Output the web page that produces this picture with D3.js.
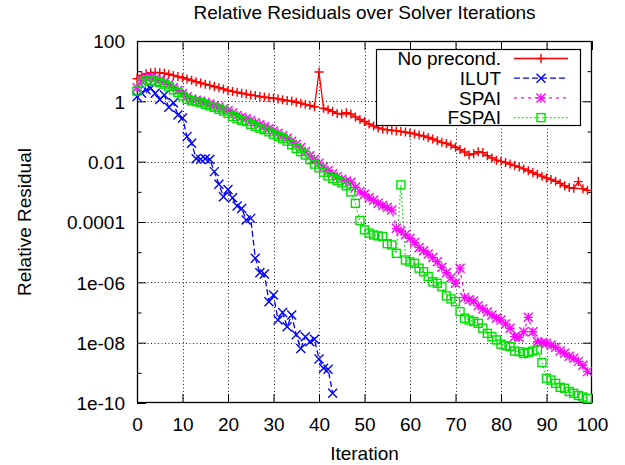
<!DOCTYPE html>
<html><head><meta charset="utf-8">
<script src="https://cdn.jsdelivr.net/npm/d3@7"></script>
<style>body{margin:0;background:#fff}svg{display:block}text{font-family:"Liberation Sans",Arial,sans-serif;fill:#000}</style>
</head><body><svg id="c" width="625" height="465"></svg>
<script>
// Data: log10 of relative residual, iteration index = position
const iterations = d3.range(0, 100);
const noPrecondLog10 = [0.75,0.86,0.92,0.95,0.96,0.95,0.93,0.90,0.86,0.82,
0.78,0.74,0.70,0.65,0.61,0.57,0.53,0.49,0.45,0.41,
0.36,0.33,0.30,0.27,0.24,0.21,0.19,0.16,0.14,0.12,
0.10,0.08,0.05,0.03,0.01,-0.03,-0.06,-0.10,-0.14,-0.18,
0.97,-0.23,-0.28,-0.34,-0.40,-0.42,-0.38,-0.42,-0.52,-0.60,
-0.67,-0.75,-0.82,-0.88,-0.92,-0.94,-0.96,-0.98,-1.00,-1.02,
-1.05,-1.08,-1.12,-1.15,-1.20,-1.25,-1.31,-1.36,-1.40,-1.45,
-1.52,-1.60,-1.68,-1.78,-1.74,-1.67,-1.70,-1.80,-1.88,-1.95,
-1.99,-2.03,-2.08,-2.13,-2.18,-2.24,-2.30,-2.36,-2.42,-2.48,
-2.54,-2.59,-2.65,-2.72,-2.80,-2.86,-2.88,-2.66,-2.90,-2.95];
const ilutLog10 = [0.15,0.28,0.38,0.43,0.27,0.06,0.21,-0.20,-0.05,-0.45,
-0.55,-1.17,-1.39,-1.90,-1.92,-1.90,-1.93,-2.33,-2.75,-3.16,
-2.92,-3.20,-3.47,-3.55,-3.93,-3.88,-5.20,-5.68,-5.72,-6.64,
-6.42,-7.25,-7.00,-7.47,-7.08,-7.74,-8.19,-7.80,-7.97,-7.89,
-8.54,-8.85,-8.88,-9.68];
const spaiLog10 = [0.45,0.68,0.80,0.80,0.75,0.70,0.64,0.56,0.46,0.36,
0.26,0.15,0.08,0.04,0.00,-0.04,-0.09,-0.14,-0.19,-0.25,
-0.31,-0.39,-0.47,-0.53,-0.58,-0.64,-0.71,-0.78,-0.84,-0.91,
-0.98,-1.06,-1.14,-1.22,-1.32,-1.42,-1.53,-1.66,-1.80,-1.92,
-2.05,-2.18,-2.30,-2.40,-2.50,-2.58,-2.64,-2.68,-2.85,-3.00,
-3.08,-3.20,-3.28,-3.38,-3.45,-3.52,-3.60,-4.21,-4.30,-4.42,
-4.54,-4.68,-4.85,-4.95,-5.06,-5.18,-5.32,-5.50,-5.68,-5.85,
-6.03,-5.53,-6.50,-6.58,-6.62,-6.78,-6.88,-6.98,-7.08,-7.18,
-7.25,-7.38,-7.52,-7.80,-7.82,-7.64,-7.16,-7.64,-7.97,-8.00,
-8.02,-8.08,-8.15,-8.28,-8.35,-8.45,-8.52,-8.62,-8.75,-8.96];
const fspaiLog10 = [0.34,0.60,0.71,0.70,0.66,0.62,0.57,0.48,0.38,0.29,
0.18,0.07,0.02,-0.01,-0.05,-0.10,-0.15,-0.20,-0.26,-0.32,
-0.40,-0.50,-0.58,-0.63,-0.67,-0.76,-0.83,-0.89,-0.94,-1.01,
-1.09,-1.16,-1.23,-1.32,-1.44,-1.56,-1.67,-1.78,-1.93,-2.08,
-2.20,-2.35,-2.47,-2.56,-2.63,-2.70,-2.80,-3.00,-3.38,-3.95,
-4.26,-4.37,-4.43,-4.46,-4.48,-4.72,-4.76,-5.04,-2.77,-5.26,
-5.32,-5.37,-5.53,-5.65,-5.81,-5.98,-6.03,-6.14,-6.45,-6.55,
-6.64,-6.97,-7.19,-7.25,-7.30,-7.36,-7.52,-7.69,-7.80,-7.91,
-8.05,-8.10,-8.13,-8.28,-8.30,-8.36,-8.32,-8.28,-8.24,-8.66,
-9.18,-9.24,-9.35,-9.48,-9.51,-9.62,-9.68,-9.75,-9.80,-9.85];

const seriesNames = ["No precond.", "ILUT", "SPAI", "FSPAI"];
const xTicks = [0,10,20,30,40,50,60,70,80,90,100];
const yMajorTicks = [100, 1, 0.01, 0.0001, 1e-6, 1e-8, 1e-10];
const yTickLabels = ["100", "1", "0.01", "0.0001", "1e-06", "1e-08", "1e-10"];
const yMinorTicks = [10, 0.1, 0.001, 1e-5, 1e-7, 1e-9];
const titleText = "Relative Residuals over Solver Iterations";
const xTitle = "Iteration";
const yTitle = "Relative Residual";

const FS = 19;
const L = 137, R = 592, T = 41, B = 403;
const svg = d3.select("#c");
const x = d3.scaleLinear().domain([0, 100]).range([L, R]);
const y = d3.scaleLog().domain([1e-10, 100]).range([B, T]);

const styles = [
  {color: "#ff0000", dash: null, marker: "plus"},
  {color: "#0000ff", dash: "6,3", marker: "cross"},
  {color: "#ff00ff", dash: "3,4", marker: "star"},
  {color: "#00e000", dash: "1.5,2.5", marker: "square"}
];
const allData = [noPrecondLog10, ilutLog10, spaiLog10, fspaiLog10].map(arr =>
  arr.map((v, i) => ({it: iterations[i], val: Math.pow(10, v)})));

// grid
const grid = svg.append("g").attr("stroke", "#222").attr("stroke-width", 1).attr("stroke-dasharray", "1,2.5");
xTicks.filter(t => t > 0 && t < 100).forEach(t => {
  grid.append("line").attr("x1", Math.round(x(t)) + 0.5).attr("x2", Math.round(x(t)) + 0.5).attr("y1", T).attr("y2", B);
});
yMajorTicks.filter(t => t < 100 && t > 1e-10).forEach(t => {
  grid.append("line").attr("y1", Math.round(y(t)) + 0.5).attr("y2", Math.round(y(t)) + 0.5).attr("x1", L).attr("x2", R);
});

// axes
const fmtY = d => yTickLabels[yMajorTicks.indexOf(d)];
const axL = svg.append("g").attr("transform", `translate(${L},0)`)
  .call(d3.axisLeft(y).tickValues(yMajorTicks).tickFormat(fmtY).tickSize(-9).tickPadding(12));
const axLm = svg.append("g").attr("transform", `translate(${L},0)`)
  .call(d3.axisLeft(y).tickValues(yMinorTicks).tickFormat("").tickSize(-4.5));
const axR = svg.append("g").attr("transform", `translate(${R},0)`)
  .call(d3.axisRight(y).tickValues(yMajorTicks).tickFormat("").tickSize(-9));
const axRm = svg.append("g").attr("transform", `translate(${R},0)`)
  .call(d3.axisRight(y).tickValues(yMinorTicks).tickFormat("").tickSize(-4.5));
const axB = svg.append("g").attr("transform", `translate(0,${B})`)
  .call(d3.axisBottom(x).tickValues(xTicks).tickFormat(d3.format("d")).tickSize(-9).tickPadding(15));
const axT = svg.append("g").attr("transform", `translate(0,${T})`)
  .call(d3.axisTop(x).tickValues(xTicks).tickFormat("").tickSize(-9));
[axL, axLm, axR, axRm, axB, axT].forEach(g => {
  g.select(".domain").remove();
  g.selectAll("line").attr("stroke", "#000").attr("stroke-width", 1);
  g.selectAll("text").attr("font-size", FS).attr("font-family", '"Liberation Sans",Arial,sans-serif').attr("fill", "#000");
});
axB.selectAll("text").attr("dy", "0.71em");
axL.selectAll("text").attr("dy", "0.36em");

svg.append("rect").attr("x", L + 0.5).attr("y", T + 0.5).attr("width", R - L - 1).attr("height", B - T - 1)
  .attr("fill", "none").attr("stroke", "#000").attr("stroke-width", 1.3);

// markers
function marker(g, type, cx, cy, color) {
  const s = 4.5;
  if (type === "plus" || type === "star") {
    g.append("path").attr("d", `M${cx - s},${cy}H${cx + s}M${cx},${cy - s}V${cy + s}`);
  }
  if (type === "cross" || type === "star") {
    g.append("path").attr("d", `M${cx - s},${cy - s}L${cx + s},${cy + s}M${cx - s},${cy + s}L${cx + s},${cy - s}`);
  }
  if (type === "square") {
    g.append("rect").attr("x", cx - 4).attr("y", cy - 4).attr("width", 8).attr("height", 8).attr("fill", "none");
  }
}

const line = d3.line().x(d => x(d.it)).y(d => y(d.val));
allData.forEach((data, k) => {
  const st = styles[k];
  const g = svg.append("g").attr("stroke", st.color).attr("fill", "none");
  g.append("path").datum(data).attr("d", line).attr("stroke-width", 1.3)
    .attr("stroke-dasharray", st.dash);
  const mg = g.append("g").attr("stroke-width", 1.4);
  data.forEach(d => marker(mg, st.marker, x(d.it), y(d.val), st.color));
});

// legend
const lg = svg.append("g");
lg.append("rect").attr("x", 376.5).attr("y", 49.5).attr("width", 204).attr("height", 76)
  .attr("fill", "#fff").attr("stroke", "#000").attr("stroke-width", 1.2);
seriesNames.forEach((name, k) => {
  const cy = 58.5 + k * 19.7;
  const st = styles[k];
  lg.append("text").attr("x", 501).attr("y", cy).attr("dy", "0.36em").attr("text-anchor", "end")
    .attr("font-size", FS).text(name);
  const g = lg.append("g").attr("stroke", st.color).attr("fill", "none");
  g.append("line").attr("x1", 514).attr("x2", 568).attr("y1", cy).attr("y2", cy)
    .attr("stroke-width", 1.3).attr("stroke-dasharray", st.dash);
  const mg = g.append("g").attr("stroke-width", 1.4);
  marker(mg, st.marker, 541, cy, st.color);
});

// titles
svg.append("text").attr("x", (L + R) / 2).attr("y", 19).attr("text-anchor", "middle").attr("font-size", FS).text(titleText);
svg.append("text").attr("x", (L + R) / 2).attr("y", 460).attr("text-anchor", "middle").attr("font-size", FS).text(xTitle);
svg.append("text").attr("transform", `translate(31,${(T + B) / 2}) rotate(-90)`).attr("text-anchor", "middle").attr("font-size", FS).text(yTitle);
</script></body></html>
